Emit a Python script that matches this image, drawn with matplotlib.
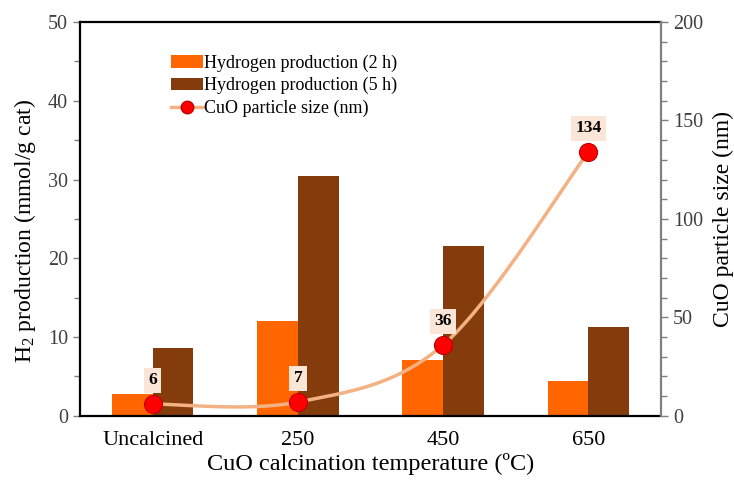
import numpy as np
import matplotlib
matplotlib.use('Agg')
import matplotlib.pyplot as plt
from matplotlib.ticker import MultipleLocator

plt.rcParams['font.family'] = ['Liberation Serif', 'DejaVu Serif']
plt.rcParams['mathtext.fontset'] = 'custom'
plt.rcParams['mathtext.rm'] = 'Liberation Serif'
plt.rcParams['mathtext.it'] = 'Liberation Serif:italic'

# data
categories = ['Uncalcined', '250', '450', '650']
h2_2h = [2.8, 12.0, 7.1, 4.4]
h2_5h = [8.6, 30.4, 21.5, 11.3]
particle_size = [6, 7, 36, 134]

c_2h = '#FF6600'
c_5h = '#843C0C'
c_line = '#F4B183'
c_box = '#FBE5D6'


def smooth_curve(y, n=60):
    # excel-style smoothing (catmull-rom through the points)
    y = np.asarray(y, float)
    x = np.arange(len(y), dtype=float)
    pts = np.column_stack([x, y])
    ext = np.vstack([pts[0], pts, pts[-1]])
    out = []
    for i in range(len(pts) - 1):
        p0, p1, p2, p3 = ext[i], ext[i + 1], ext[i + 2], ext[i + 3]
        t = np.linspace(0, 1, n)[:, None]
        seg = 0.5 * ((2 * p1) + (-p0 + p2) * t + (2 * p0 - 5 * p1 + 4 * p2 - p3) * t ** 2
                     + (-p0 + 3 * p1 - 3 * p2 + p3) * t ** 3)
        out.append(seg)
    out = np.vstack(out)
    return out[:, 0], out[:, 1]


fig = plt.figure(figsize=(7.34, 4.83), dpi=100)
ax = fig.add_axes([0.109, 0.139, 0.7915, 0.8155])
x = np.arange(len(categories))
w = 0.28

b1 = ax.bar(x - w / 2, h2_2h, w, color=c_2h, label='Hydrogen production (2 h)', zorder=2)
b2 = ax.bar(x + w / 2, h2_5h, w, color=c_5h, label='Hydrogen production (5 h)', zorder=2)

ax.set_xlim(-0.5, 3.5)
ax.set_ylim(0, 50)
ax.set_xticks(x)
ax.set_xticklabels(categories, fontsize=16)
ax.tick_params(axis='x', length=0, pad=11)
ax.yaxis.set_major_locator(MultipleLocator(10))
ax.yaxis.set_minor_locator(MultipleLocator(5))
ax.tick_params(axis='y', which='both', direction='out', colors='#808080', labelcolor='#404040',
               labelsize=14.5, width=1)
ax.tick_params(axis='y', which='major', length=5)
ax.tick_params(axis='y', which='minor', length=4)
ax.set_xlabel('CuO calcination temperature (ºC)', fontsize=17.5, labelpad=2)
ax.set_ylabel('H$_2$ production (mmol/g cat)', fontsize=17, labelpad=8)
ax.yaxis.set_label_coords(-0.073, 0.47)

for s in ['left', 'top', 'bottom']:
    ax.spines[s].set_color('black')
    ax.spines[s].set_linewidth(1.6)
ax.spines['right'].set_visible(False)

ax2 = ax.twinx()
ax2.set_ylim(0, 200)
ax2.yaxis.set_major_locator(MultipleLocator(50))
ax2.yaxis.set_minor_locator(MultipleLocator(10))
ax2.tick_params(axis='y', which='both', direction='out', colors='#808080', labelcolor='#404040',
                labelsize=14.5, width=1)
ax2.tick_params(axis='y', which='major', length=5)
ax2.tick_params(axis='y', which='minor', length=4)
for s in ['left', 'top', 'bottom']:
    ax2.spines[s].set_visible(False)
ax2.spines['right'].set_color('#808080')
ax2.spines['right'].set_linewidth(1.6)
ax2.set_ylabel('CuO particle size (nm)', fontsize=17, labelpad=7)

sx, sy = smooth_curve(particle_size)
ax2.plot(sx, sy, color=c_line, lw=2.5, zorder=3)
ax2.plot(x, particle_size, 'o', color='#FF0000', mec='#C00000', mew=0.8, ms=13, zorder=4)
ln, = ax2.plot([], [], '-o', color=c_line, lw=2.5, mfc='#FF0000', mec='#C00000', ms=9,
               label='CuO particle size (nm)')

for xi, v in zip(x, particle_size):
    ax2.annotate(str(v), (xi, v), xytext=(0, 17), textcoords='offset points',
                 ha='center', va='center', fontsize=12.5, fontweight='bold',
                 bbox=dict(boxstyle='square,pad=0.25', fc=c_box, ec='none'), zorder=5)

ax.legend([b1, b2, ln], [b1.get_label(), b2.get_label(), ln.get_label()],
          loc='upper left', bbox_to_anchor=(0.135, 0.95), frameon=False, fontsize=13,
          handlelength=1.75, handletextpad=0.1, labelspacing=0.3, borderpad=0.2)

fig.savefig('out.png', dpi=100)
